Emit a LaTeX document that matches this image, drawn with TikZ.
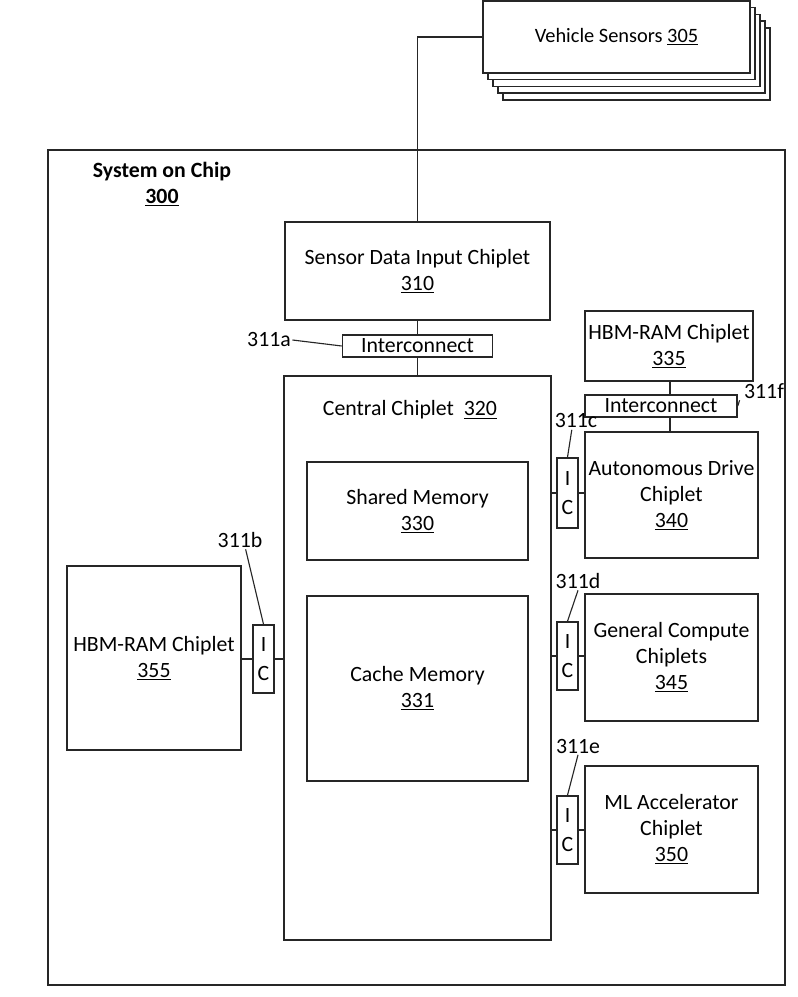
\documentclass[tikz,border=0pt]{standalone}
\usepackage{fontspec}
\setmainfont{Carlito}
\usepackage{tikz}
\usetikzlibrary{calc}

\begin{document}
\begin{tikzpicture}[
  x=0.025cm, y=-0.025cm,
  font=\fontsize{15.5pt}{18.5pt}\selectfont,
  box/.style={rectangle,draw=black!85,line width=1.1pt,align=center,inner sep=0pt},
  ic/.style={rectangle,draw=black!85,line width=1.1pt,align=center,inner sep=0pt,minimum width=0.525cm,minimum height=1.7cm,fill=white,font=\fontsize{15.5pt}{21pt}\selectfont},
  link/.style={draw=black!85,line width=1.1pt},
  lbl/.style={inner sep=1pt}
]
\useasboundingbox (0,0) rectangle (797,997);

% vehicle sensors stack
\foreach \k in {4,3,2,1}
  \node[box,fill=white,minimum width=6.675cm,minimum height=1.8cm] (sens\k) at (616.5+5*\k,37+6.7*\k) {};
\node[box,fill=white,minimum width=6.675cm,minimum height=1.8cm,font=\fontsize{14.5pt}{18pt}\selectfont] (sens0) at (616.5,37) {Vehicle Sensors \underline{305}};

% system on chip
\node[box,minimum width=18.425cm,minimum height=20.875cm] (soc) at (416.5,567.5) {};
\node[lbl,align=center,font=\fontsize{15.5pt}{18.5pt}\selectfont\bfseries] (socname) at (162,184) {System on Chip\\\underline{300}};

\node[box,minimum width=6.625cm,minimum height=2.45cm] (sdi) at (417.5,271) {Sensor Data Input Chiplet\\\underline{310}};
\node[box,minimum width=3.75cm,minimum height=0.55cm] (ica) at (417.5,346) {Interconnect};
\node[box,minimum width=6.675cm,minimum height=14.1cm] (central) at (417.5,658) {};
\node[lbl] (centralname) at (410,410) {Central Chiplet \ \underline{320}};
\node[box,minimum width=5.525cm,minimum height=2.45cm] (shared) at (417.5,511) {Shared Memory\\\underline{330}};
\node[box,minimum width=5.525cm,minimum height=4.625cm] (cache) at (417.5,688.5) {Cache Memory\\\underline{331}};

\node[box,minimum width=4.35cm,minimum height=4.6cm] (hbmb) at (154,658) {HBM-RAM Chiplet\\\underline{355}};
\node[ic] (icb) at (263.5,659) {I\\C};

\node[box,minimum width=4.2cm,minimum height=1.75cm] (hbma) at (669,346) {HBM-RAM Chiplet\\\underline{335}};
\node[box,minimum width=3.8cm,minimum height=0.55cm] (icf) at (661,406) {Interconnect};
\node[box,minimum width=4.325cm,minimum height=3.15cm] (drive) at (671.5,495) {Autonomous Drive\\Chiplet\\\underline{340}};
\node[ic,minimum height=1.75cm] (icc) at (567.5,493) {I\\C};
\node[box,minimum width=4.325cm,minimum height=3.175cm] (compute) at (671.5,657.5) {General Compute\\Chiplets\\\underline{345}};
\node[ic] (icd) at (567.5,656) {I\\C};
\node[box,minimum width=4.325cm,minimum height=3.175cm] (mlacc) at (671.5,829.5) {ML Accelerator\\Chiplet\\\underline{350}};
\node[ic] (ice) at (567.5,830) {I\\C};

% reference labels
\node[lbl] (la) at (269,340) {311a};
\node[lbl] (lb) at (240,540) {311b};
\node[lbl] (lc) at (576,421) {311c};
\node[lbl] (ld) at (578,581) {311d};
\node[lbl] (le) at (578,746) {311e};
\node[lbl] (lf) at (764,391) {311f};

\draw[link] (sens0.west) -| (sdi.north);
\draw[link] (sdi.south) -- (ica.north);
\draw[link] (ica.south) -- (central.north);
\draw[link] (hbma.south -| 670,0) -- (icf.north -| 670,0);
\draw[link] (icf.south -| 670,0) -- (drive.north -| 670,0);
\draw[link] (icb.west) -- (icb.west -| hbmb.east);
\draw[link] (icb.east) -- (icb.east -| central.west);
\foreach \c/\b in {icc/drive,icd/compute,ice/mlacc} {
  \draw[link] (\c.west) -- (\c.west -| central.east);
  \draw[link] (\c.east) -- (\c.east -| \b.west);
}

\draw[link,line width=0.8pt] (la.east) -- (ica.west);
\draw[link,line width=0.8pt] ([xshift=4pt]lb.south) -- (icb.north);
\draw[link,line width=0.8pt] ([xshift=-3pt]lc.south) -- (icc.north);
\draw[link,line width=0.8pt] (ld.south) -- (icd.north);
\draw[link,line width=0.8pt] (le.south) -- (ice.north);
\draw[link,line width=0.8pt] ([xshift=-2pt]lf.south west) -- (icf.east);
\end{tikzpicture}
\end{document}
